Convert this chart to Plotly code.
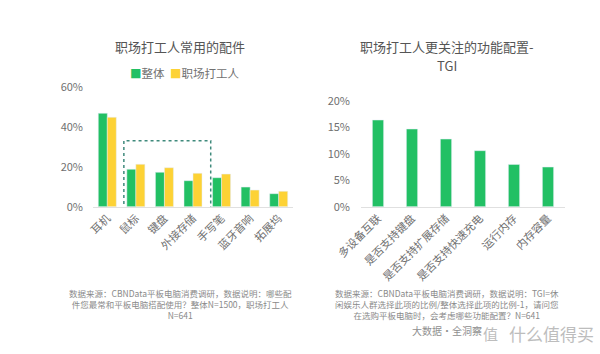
import plotly.graph_objects as go

# Left chart data
acc_categories = ["耳机", "鼠标", "键盘", "外接存储", "手写笔", "蓝牙音响", "拓展坞"]
overall_vals = [46.7, 18.7, 17.2, 13.0, 14.5, 9.8, 6.5]
worker_vals = [44.7, 21.2, 19.5, 16.7, 16.3, 8.3, 7.7]
series_names = ["整体", "职场打工人"]
left_ticks = [0, 20, 40, 60]
left_ticklabels = ["0%", "20%", "40%", "60%"]

# Right chart data
feat_categories = ["多设备互联", "是否支持键盘", "是否支持扩展存储", "是否支持快速充电", "运行内存", "内存容量"]
tgi_vals = [16.4, 14.7, 12.8, 10.6, 8.0, 7.5]
right_ticks = [0, 5, 10, 15, 20]
right_ticklabels = ["0%", "5%", "10%", "15%", "20%"]

left_note = ["数据来源：CBNData平板电脑消费调研，数据说明：哪些配",
             "件您最常和平板电脑搭配使用？整体N=1500，职场打工人",
             "N=641"]
right_note = ["数据来源：CBNData平板电脑消费调研，数据说明：TGI=休",
              "闲娱乐人群选择此项的比例/整体选择此项的比例-1，请问您",
              "在选购平板电脑时，会考虑哪些功能配置？N=641"]

GREEN = "#22c064"
YELLOW = "#fdd235"
FONT = "Noto Sans CJK SC"
TXT = "#707070"

fig = go.Figure()
fig.add_trace(go.Bar(x=acc_categories, y=overall_vals, name=series_names[0], marker_color=GREEN,
                     xaxis="x", yaxis="y"))
fig.add_trace(go.Bar(x=acc_categories, y=worker_vals, name=series_names[1], marker_color=YELLOW,
                     xaxis="x", yaxis="y"))
fig.add_trace(go.Bar(x=feat_categories, y=tgi_vals, name="TGI", marker_color=GREEN,
                     xaxis="x2", yaxis="y2", width=0.33))

H = 354.0
def py(px):
    return 1 - px / H

fig.update_layout(
    width=600, height=354,
    margin=dict(l=0, r=0, t=0, b=0, autoexpand=False),
    paper_bgcolor="white", plot_bgcolor="white",
    font=dict(family=FONT, color=TXT, size=11),
    barmode="group", bargap=0.37, bargroupgap=0,
    showlegend=False,
    xaxis=dict(domain=[93/600, 293/600], anchor="y", showline=True, linecolor="#e0e0e0",
               ticks="", tickangle=-45, tickfont=dict(size=11, color=TXT), showgrid=False,
               automargin=False),
    yaxis=dict(domain=[py(206.7), py(86.7)], anchor="x", range=[0, 60], tickvals=left_ticks,
               ticktext=left_ticklabels, showgrid=False, zeroline=False, showline=False,
               tickfont=dict(size=11, color=TXT), ticklabelstandoff=9, automargin=False),
    xaxis2=dict(domain=[361/600, 565/600], anchor="y2", showline=True, linecolor="#e0e0e0",
                ticks="", tickangle=-45, tickfont=dict(size=11, color=TXT), showgrid=False,
                automargin=False),
    yaxis2=dict(domain=[py(206.7), py(101)], anchor="x2", range=[0, 20], tickvals=right_ticks,
                ticktext=right_ticklabels, showgrid=False, zeroline=False, showline=False,
                tickfont=dict(size=11, color=TXT), ticklabelstandoff=10, automargin=False),
)

fig.add_shape(type="rect", xref="x", yref="y", x0=0.58, x1=3.62, y0=-3, y1=33,
              line=dict(color="#3f8a7c", width=1.5, dash="dot"), fillcolor="rgba(0,0,0,0)")

def note(text, xpx, ypx, size, color, xanchor="center"):
    return dict(text=text, x=xpx/600, y=py(ypx), xref="paper", yref="paper", showarrow=False,
                xanchor=xanchor, yanchor="middle", align="center", borderpad=0,
                font=dict(size=size, color=color))

ann = [
    note("职场打工人常用的配件", 180, 47, 13, "#555555"),
    note("<span style='color:%s'>■</span>%s" % (GREEN, series_names[0]), 129, 73, 11.5, TXT, "left"),
    note("<span style='color:%s'>■</span>%s" % (YELLOW, series_names[1]), 169, 73, 11.5, TXT, "left"),
    note("职场打工人更关注的功能配置-", 447, 46.5, 13, "#555555"),
    note("TGI", 447, 66, 13, "#555555"),
    note("<br>".join(left_note), 180, 304, 8.5, "#8a8a8a"),
    note("<br>".join(right_note), 447, 303.5, 8.5, "#8a8a8a"),
    note("大数据·全洞察", 447, 330, 10, "#8f8f8f"),
    note("值", 490, 333, 15, "#bdbdbd"),
    note("什么值得买", 551, 333, 17, "#bdbdbd"),
]
fig.update_layout(annotations=ann)

fig.write_html("out.html")
